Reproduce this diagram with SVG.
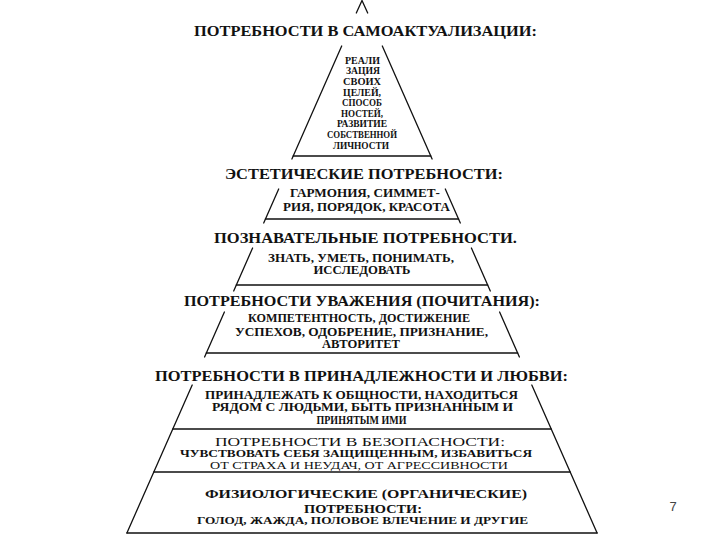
<svg xmlns="http://www.w3.org/2000/svg" width="720" height="540" viewBox="0 0 720 540">
<style>
.ln{stroke:#111;stroke-width:1.3;fill:none;stroke-linecap:round}
text{font-family:"Liberation Serif","DejaVu Serif",serif;fill:#111;text-anchor:middle;font-weight:bold}
.t{font-size:15.5px}
.m{font-size:13.5px}
.s{font-size:11.5px}
.a{font-size:10.5px}
.r{font-weight:normal}
.pg{font-family:"Liberation Sans",Arial,sans-serif;font-weight:normal;font-size:13px;fill:#444}
</style>
<rect width="720" height="540" fill="#fff"/>
<g id="outline">
<polyline class="ln" points="356.3,13 362,0.5 367.7,13"/>
<line class="ln" x1="341.7" y1="46" x2="291.9" y2="159"/>
<line class="ln" x1="382.3" y1="46" x2="432.1" y2="159"/>
<line class="ln" x1="293.2" y1="156" x2="430.8" y2="156"/>
<line class="ln" x1="278.7" y1="189" x2="263.7" y2="223"/>
<line class="ln" x1="445.3" y1="189" x2="460.3" y2="223"/>
<line class="ln" x1="265.4" y1="219" x2="458.6" y2="219"/>
<line class="ln" x1="252.6" y1="248" x2="233.7" y2="291"/>
<line class="ln" x1="471.4" y1="248" x2="490.3" y2="291"/>
<line class="ln" x1="236.3" y1="285" x2="487.7" y2="285"/>
<line class="ln" x1="224.4" y1="312" x2="204.6" y2="357"/>
<line class="ln" x1="499.6" y1="312" x2="519.4" y2="357"/>
<line class="ln" x1="206.3" y1="353" x2="517.7" y2="353"/>
<line class="ln" x1="192.2" y1="385" x2="126.9" y2="533"/>
<line class="ln" x1="531.8" y1="385" x2="597.1" y2="533"/>
<line class="ln" x1="172.8" y1="429" x2="551.2" y2="429"/>
<line class="ln" x1="153.8" y1="472" x2="570.2" y2="472"/>
<line class="ln" x1="126.9" y1="533" x2="597.1" y2="533"/>
</g>
<g id="self-actualization">
<text class="t" x="365.5" y="36" textLength="343" lengthAdjust="spacingAndGlyphs">ПОТРЕБНОСТИ В САМОАКТУАЛИЗАЦИИ:</text>
<text class="a" x="362.5" y="63.7" textLength="35" lengthAdjust="spacingAndGlyphs">РЕАЛИ</text>
<text class="a" x="363" y="74.3" textLength="34" lengthAdjust="spacingAndGlyphs">ЗАЦИЯ</text>
<text class="a" x="362" y="84.9" textLength="38" lengthAdjust="spacingAndGlyphs">СВОИХ</text>
<text class="a" x="362" y="95.5" textLength="38" lengthAdjust="spacingAndGlyphs">ЦЕЛЕЙ,</text>
<text class="a" x="362" y="106.1" textLength="40" lengthAdjust="spacingAndGlyphs">СПОСОБ</text>
<text class="a" x="362" y="116.7" textLength="42" lengthAdjust="spacingAndGlyphs">НОСТЕЙ,</text>
<text class="a" x="362" y="127.3" textLength="50" lengthAdjust="spacingAndGlyphs">РАЗВИТИЕ</text>
<text class="a" x="362" y="137.9" textLength="70" lengthAdjust="spacingAndGlyphs">СОБСТВЕННОЙ</text>
<text class="a" x="361" y="148.5" textLength="56" lengthAdjust="spacingAndGlyphs">ЛИЧНОСТИ</text>
</g>
<g id="aesthetic">
<text class="t" x="364" y="179" textLength="278" lengthAdjust="spacingAndGlyphs">ЭСТЕТИЧЕСКИЕ ПОТРЕБНОСТИ:</text>
<text class="s" x="365" y="197" textLength="150" lengthAdjust="spacingAndGlyphs">ГАРМОНИЯ, СИММЕТ-</text>
<text class="s" x="366.5" y="211" textLength="167" lengthAdjust="spacingAndGlyphs">РИЯ, ПОРЯДОК, КРАСОТА</text>
</g>
<g id="cognitive">
<text class="t" x="365.5" y="243" textLength="303" lengthAdjust="spacingAndGlyphs">ПОЗНАВАТЕЛЬНЫЕ ПОТРЕБНОСТИ.</text>
<text class="s" x="361" y="262" textLength="186" lengthAdjust="spacingAndGlyphs">ЗНАТЬ, УМЕТЬ, ПОНИМАТЬ,</text>
<text class="s" x="362" y="274" textLength="97" lengthAdjust="spacingAndGlyphs">ИССЛЕДОВАТЬ</text>
</g>
<g id="esteem">
<text class="t" x="362" y="306" textLength="356" lengthAdjust="spacingAndGlyphs">ПОТРЕБНОСТИ УВАЖЕНИЯ (ПОЧИТАНИЯ):</text>
<text class="s" x="359" y="322" textLength="222" lengthAdjust="spacingAndGlyphs">КОМПЕТЕНТНОСТЬ, ДОСТИЖЕНИЕ</text>
<text class="s" x="361.5" y="336" textLength="253" lengthAdjust="spacingAndGlyphs">УСПЕХОВ, ОДОБРЕНИЕ, ПРИЗНАНИЕ,</text>
<text class="s" x="361" y="348" textLength="78" lengthAdjust="spacingAndGlyphs">АВТОРИТЕТ</text>
</g>
<g id="belonging">
<text class="t" x="361.5" y="380.5" textLength="413" lengthAdjust="spacingAndGlyphs">ПОТРЕБНОСТИ В ПРИНАДЛЕЖНОСТИ И ЛЮБВИ:</text>
<text class="s" x="361.5" y="399" textLength="313" lengthAdjust="spacingAndGlyphs">ПРИНАДЛЕЖАТЬ К ОБЩНОСТИ, НАХОДИТЬСЯ</text>
<text class="s" x="362.5" y="411" textLength="301" lengthAdjust="spacingAndGlyphs">РЯДОМ С ЛЮДЬМИ, БЫТЬ ПРИЗНАННЫМ И</text>
<text class="s" x="361.5" y="424" textLength="90" lengthAdjust="spacingAndGlyphs">ПРИНЯТЫМ ИМИ</text>
</g>
<g id="safety">
<text class="m r" x="360" y="445.5" textLength="290" lengthAdjust="spacingAndGlyphs">ПОТРЕБНОСТИ В БЕЗОПАСНОСТИ:</text>
<text class="a" x="356" y="457" textLength="352" lengthAdjust="spacingAndGlyphs">ЧУВСТВОВАТЬ СЕБЯ ЗАЩИЩЕННЫМ, ИЗБАВИТЬСЯ</text>
<text class="a r" x="359" y="469" textLength="298" lengthAdjust="spacingAndGlyphs">ОТ СТРАХА И НЕУДАЧ, ОТ АГРЕССИВНОСТИ</text>
</g>
<g id="physiological">
<text class="m" x="366" y="498" textLength="322" lengthAdjust="spacingAndGlyphs">ФИЗИОЛОГИЧЕСКИЕ (ОРГАНИЧЕСКИЕ)</text>
<text class="m" x="363" y="512.5" textLength="118" lengthAdjust="spacingAndGlyphs">ПОТРЕБНОСТИ:</text>
<text class="a" x="362.5" y="524" textLength="331" lengthAdjust="spacingAndGlyphs">ГОЛОД, ЖАЖДА, ПОЛОВОЕ ВЛЕЧЕНИЕ И ДРУГИЕ</text>
</g>
<g id="page-number">
<text class="pg" x="673" y="511">7</text>
</g>
</svg>
